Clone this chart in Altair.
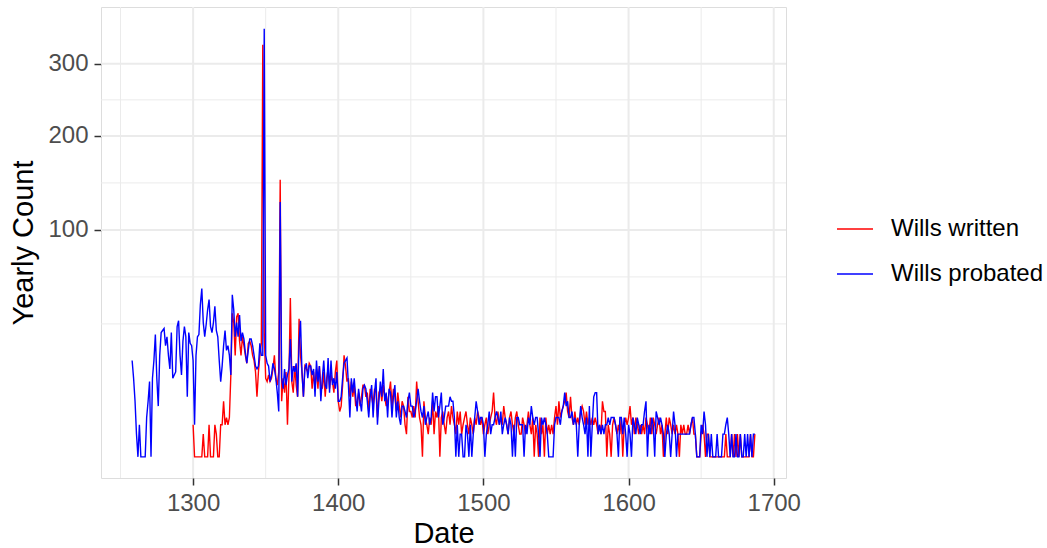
import altair as alt
import pandas as pd

# Yearly counts of wills, one value per year from the start year onward
PROBATED_START = 1258
probated = [
    18, 12, 6, 1, 0, 2, 0, 0, 0, 0,
    3, 6, 11, 0, 12, 18, 29, 12, 5, 20,
    30, 31, 32, 24, 28, 20, 15, 30, 12, 13,
    14, 33, 36, 20, 13, 26, 33, 28, 7, 30,
    25, 24, 18, 2, 20, 28, 29, 45, 55, 35,
    28, 34, 42, 48, 33, 30, 35, 44, 31, 28,
    18, 11, 16, 24, 31, 22, 24, 20, 13, 51,
    42, 28, 35, 28, 39, 26, 30, 27, 21, 17,
    22, 27, 27, 24, 20, 16, 15, 16, 25, 20,
    20, 356, 20, 17, 16, 11, 13, 17, 15, 12,
    8, 4, 126, 12, 9, 15, 10, 13, 15, 27,
    11, 16, 14, 17, 7, 25, 36, 14, 7, 15,
    17, 12, 16, 16, 13, 15, 7, 18, 11, 16,
    6, 12, 18, 10, 9, 19, 8, 18, 10, 12,
    9, 14, 6, 6, 7, 12, 17, 18, 19, 10,
    3, 12, 8, 12, 7, 4, 9, 6, 4, 9,
    10, 9, 6, 3, 7, 10, 3, 8, 12, 2,
    6, 11, 7, 15, 6, 8, 3, 9, 8, 3,
    7, 10, 3, 6, 3, 2, 5, 5, 4, 3,
    6, 8, 5, 5, 3, 4, 6, 9, 6, 4,
    3, 5, 2, 3, 4, 2, 3, 8, 4, 7,
    7, 3, 5, 8, 2, 3, 5, 5, 5, 7,
    6, 6, 3, 0, 2, 0, 1, 1, 0, 0,
    2, 1, 0, 2, 0, 1, 3, 6, 4, 2,
    3, 3, 2, 0, 1, 2, 4, 1, 2, 2,
    3, 4, 3, 2, 4, 1, 2, 3, 2, 1,
    3, 2, 0, 2, 0, 3, 3, 2, 2, 2,
    0, 2, 1, 3, 2, 5, 3, 2, 3, 3,
    1, 0, 3, 2, 3, 2, 1, 0, 0, 0,
    0, 2, 3, 3, 3, 2, 4, 5, 8, 5,
    6, 3, 3, 4, 2, 3, 2, 0, 2, 5,
    3, 2, 1, 3, 0, 5, 0, 2, 7, 8,
    8, 1, 2, 1, 2, 1, 2, 2, 3, 2,
    3, 3, 3, 2, 1, 0, 3, 3, 1, 3,
    1, 0, 2, 1, 0, 3, 2, 1, 3, 2,
    1, 2, 2, 4, 6, 0, 2, 1, 3, 2,
    0, 4, 3, 2, 3, 2, 1, 0, 1, 2,
    1, 0, 1, 4, 2, 0, 1, 1, 1, 1,
    1, 1, 1, 1, 1, 2, 3, 3, 1, 0,
    0, 0, 2, 1, 4, 2, 0, 1, 0, 1,
    0, 0, 0, 1, 0, 0, 0, 1, 1, 2,
    3, 1, 0, 1, 0, 0, 1, 0, 0, 1,
    0, 0, 1, 0, 1, 0, 1, 0, 1, 1,
]

WRITTEN_START = 1300
written = [
    2, 0, 0, 0, 0, 0, 0, 1, 0, 0,
    0, 2, 0, 0, 0, 2, 1, 0, 0, 2,
    2, 6, 2, 3, 2, 3, 13, 40, 35, 20,
    38, 40, 26, 20, 28, 24, 20, 17, 25, 26,
    24, 20, 18, 14, 7, 14, 20, 25, 330, 30,
    12, 11, 13, 11, 12, 15, 20, 12, 10, 14,
    149, 6, 12, 8, 14, 2, 12, 49, 11, 8,
    16, 10, 7, 37, 20, 14, 7, 16, 15, 14,
    17, 16, 9, 14, 9, 15, 9, 16, 10, 9,
    14, 7, 12, 15, 9, 13, 11, 8, 14, 18,
    6, 4, 5, 10, 20, 16, 11, 12, 7, 11,
    7, 10, 5, 6, 8, 5, 7, 10, 10, 7,
    8, 4, 9, 7, 5, 9, 8, 3, 8, 9,
    6, 10, 7, 5, 6, 8, 11, 5, 9, 7,
    4, 8, 5, 3, 6, 5, 2, 1, 7, 4,
    4, 3, 5, 3, 11, 6, 3, 2, 0, 6,
    3, 2, 1, 3, 2, 6, 1, 4, 3, 5,
    0, 3, 4, 2, 1, 3, 4, 2, 5, 3,
    2, 1, 4, 2, 4, 1, 2, 3, 4, 2,
    1, 3, 2, 1, 3, 2, 4, 3, 2, 3,
    1, 2, 3, 1, 2, 3, 4, 8, 3, 2,
    4, 2, 3, 2, 5, 3, 2, 1, 3, 4,
    2, 1, 3, 4, 2, 1, 1, 3, 2, 1,
    2, 4, 2, 1, 3, 0, 2, 1, 0, 3,
    1, 2, 0, 3, 1, 2, 1, 2, 1, 3,
    5, 2, 6, 3, 4, 5, 6, 8, 4, 3,
    7, 3, 2, 4, 2, 3, 2, 4, 5, 4,
    2, 4, 2, 3, 2, 3, 2, 3, 2, 1,
    2, 1, 6, 4, 4, 0, 2, 1, 0, 2,
    3, 2, 1, 2, 1, 3, 0, 2, 3, 2,
    3, 5, 2, 3, 1, 3, 2, 1, 2, 1,
    2, 1, 3, 2, 1, 3, 1, 3, 2, 1,
    2, 3, 1, 2, 0, 1, 3, 1, 3, 2,
    1, 2, 1, 2, 1, 0, 2, 1, 2, 1,
    1, 2, 1, 2, 3, 1, 1, 0, 0, 0,
    1, 2, 1, 0, 1, 1, 0, 0, 0, 0,
    0, 0, 0, 0, 0, 0, 0, 1, 0, 0,
    0, 1, 0, 1, 0, 1, 0, 1, 0, 0,
    0, 0, 0, 0, 1, 0, 0, 1,
]

series_names = ["Wills written", "Wills probated"]
series_colors = ["#FF0000", "#0000FF"]

x_major = [1300, 1400, 1500, 1600, 1700]
x_minor = [1250, 1350, 1450, 1550, 1650]
y_major = [100, 200, 300]


def sqrt_mid(a, b):
    return ((a ** 0.5 + b ** 0.5) / 2) ** 2


# minor breaks halfway between majors on the square-root scale
y_low = (2 * y_major[0] ** 0.5 - y_major[1] ** 0.5) ** 2
y_minor = [y_low, sqrt_mid(y_low, y_major[0]),
           sqrt_mid(y_major[0], y_major[1]), sqrt_mid(y_major[1], y_major[2])]

written_df = pd.DataFrame({
    "Date": list(range(WRITTEN_START, WRITTEN_START + len(written))),
    "Count": written,
    "Series": series_names[0],
})
probated_df = pd.DataFrame({
    "Date": list(range(PROBATED_START, PROBATED_START + len(probated))),
    "Count": probated,
    "Series": series_names[1],
})

FONT = "Liberation Sans"
GRID = "#EBEBEB"

x_scale = alt.Scale(domain=[1236.55, 1708.45], nice=False, zero=False)
y_scale = alt.Scale(type="sqrt", domain=[-0.87, 393], nice=False, zero=False)
color_scale = alt.Scale(domain=series_names, range=series_colors)

x_axis = alt.Axis(
    values=x_major, format="d", grid=False, domain=False,
    tickColor="#333333", tickSize=7, tickWidth=1.5,
    labelFont=FONT, labelFontSize=24, labelColor="#4D4D4D", labelPadding=6,
    titleFont=FONT, titleFontSize=29, titleFontWeight="normal", titleColor="#000000",
    titlePadding=4,
)
y_axis = alt.Axis(
    values=y_major, format="d", grid=False, domain=False,
    tickColor="#333333", tickSize=7, tickWidth=1.5,
    labelFont=FONT, labelFontSize=24, labelColor="#4D4D4D", labelPadding=6,
    titleFont=FONT, titleFontSize=29, titleFontWeight="normal", titleColor="#000000",
    titlePadding=9,
)


def xpos(field):
    return alt.X(field, scale=x_scale, axis=x_axis, title="Date")


def ypos(field):
    return alt.Y(field, scale=y_scale, axis=y_axis, title="Yearly Count")


xminor_rules = alt.Chart(pd.DataFrame({"v": x_minor})).mark_rule(
    color=GRID, strokeWidth=1).encode(x=xpos("v:Q"))
xmajor_rules = alt.Chart(pd.DataFrame({"v": x_major})).mark_rule(
    color=GRID, strokeWidth=2).encode(x=xpos("v:Q"))
yminor_rules = alt.Chart(pd.DataFrame({"v": y_minor})).mark_rule(
    color=GRID, strokeWidth=1).encode(y=ypos("v:Q"))
ymajor_rules = alt.Chart(pd.DataFrame({"v": y_major})).mark_rule(
    color=GRID, strokeWidth=2).encode(y=ypos("v:Q"))

legend = alt.Legend(
    title=None, orient="none", legendX=735, legendY=203,
    symbolType="stroke", symbolSize=1296, symbolStrokeWidth=1.5,
    labelFont=FONT, labelFontSize=24, labelColor="#000000", labelOffset=17,
    rowPadding=14,
)


def series_line(df):
    return alt.Chart(df).mark_line(strokeWidth=1.4, interpolate="linear").encode(
        x=xpos("Date:Q"),
        y=ypos("Count:Q"),
        color=alt.Color("Series:N", scale=color_scale, legend=legend),
    )


chart = alt.layer(
    xminor_rules, yminor_rules, xmajor_rules, ymajor_rules,
    series_line(written_df), series_line(probated_df),
).properties(
    width=685, height=471,
    autosize=alt.AutoSizeParams(type="none"),
    padding={"left": 101, "top": 7, "right": 261, "bottom": 70},
).configure_view(
    stroke="#333333", strokeWidth=1.6, fill="#FFFFFF",
).configure(background="#FFFFFF")

chart.save("out.html", embed_options={"renderer": "svg", "actions": False})
